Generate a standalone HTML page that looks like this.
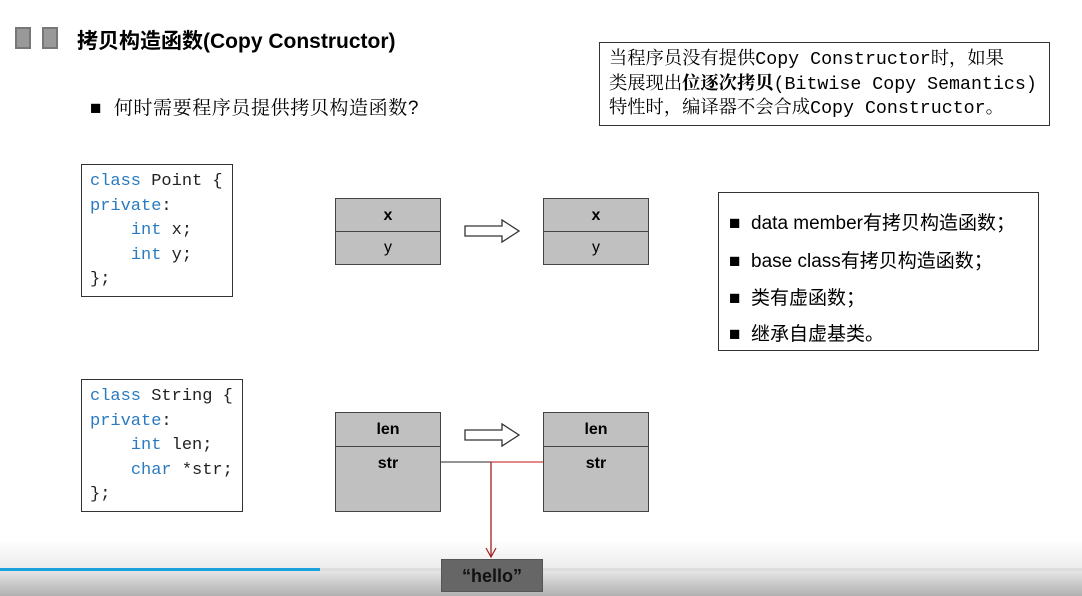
<!DOCTYPE html>
<html><head><meta charset="utf-8"><style>
*{margin:0;padding:0;box-sizing:border-box}
body{width:1082px;height:596px;overflow:hidden;background:#fff;position:relative;font-family:"Liberation Sans","Noto Sans CJK SC",sans-serif;color:#000}
.a{position:absolute}
.sq{position:absolute;width:16px;height:22px;background:#999;border:2px solid #777}
.code{position:absolute;border:1px solid #333;background:#fff;font-family:"Liberation Mono","Noto Serif CJK SC",monospace;font-size:17px;line-height:24.5px;padding:5px 0 0 8px;color:#222;white-space:pre}
.k{color:#2a7ac0}
.box{position:absolute;background:#c0c0c0;border:1px solid #444}
.box div{text-align:center;font-size:16px;font-weight:bold}
.note{position:absolute;left:599px;top:42px;width:451px;height:84px;border:1px solid #333;font-family:"Liberation Mono","Noto Serif CJK SC",serif;font-size:18.3px;line-height:24.5px;padding:5px 0 0 9px;white-space:nowrap;overflow:hidden}
.list{position:absolute;left:718px;top:192px;width:321px;height:159px;border:1px solid #333;font-size:19px}
.list div{position:absolute;left:10px;white-space:nowrap}
</style></head><body>
<div class="sq" style="left:15px;top:27px"></div>
<div class="sq" style="left:42px;top:27px"></div>
<div class="a" style="left:77px;top:25px;font-size:21px;font-weight:bold">拷贝构造函数(Copy Constructor)</div>
<div class="a" style="left:90px;top:93px;font-size:19px;letter-spacing:0.6px;font-family:'Liberation Sans','Noto Serif CJK SC',serif">■&nbsp; 何时需要程序员提供拷贝构造函数?</div>
<div class="note">当程序员没有提供Copy Constructor时，如果<br>类展现出<b>位逐次拷贝</b>(Bitwise Copy Semantics)<br>特性时，编译器不会合成Copy Constructor。</div>

<div class="code" style="left:81px;top:164px;width:152px;height:133px"><span class="k">class</span> Point {
<span class="k">private</span>:
    <span class="k">int</span> x;
    <span class="k">int</span> y;
};</div>
<div class="code" style="left:81px;top:379px;width:162px;height:133px"><span class="k">class</span> String {
<span class="k">private</span>:
    <span class="k">int</span> len;
    <span class="k">char</span> *str;
};</div>

<div class="box" style="left:335px;top:198px;width:106px;height:67px"><div style="height:33px;line-height:33px;border-bottom:1px solid #444">x</div><div style="line-height:32px;font-weight:normal">y</div></div>
<div class="box" style="left:543px;top:198px;width:106px;height:67px"><div style="height:33px;line-height:33px;border-bottom:1px solid #444">x</div><div style="line-height:32px;font-weight:normal">y</div></div>
<div class="box" style="left:335px;top:412px;width:106px;height:100px"><div style="height:34px;line-height:34px;border-bottom:1px solid #444">len</div><div style="line-height:34px">str</div></div>
<div class="box" style="left:543px;top:412px;width:106px;height:100px"><div style="height:34px;line-height:34px;border-bottom:1px solid #444">len</div><div style="line-height:34px">str</div></div>

<div class="a" style="left:0;top:540px;width:1082px;height:56px;background:linear-gradient(#fff,#ececec 50%,#b0b0b0)"></div>
<div class="a" style="left:0;top:568px;width:320px;height:3px;background:#1aa3dc"></div>
<div class="a" style="left:320px;top:568px;width:762px;height:3px;background:#ddd"></div>

<svg class="a" style="left:0;top:0" width="1082" height="596">
<polygon points="465,226 502,226 502,220 519,231 502,242 502,236 465,236" fill="#fff" stroke="#333" stroke-width="1.3"/>
<polygon points="465,430 502,430 502,424 519,435 502,446 502,440 465,440" fill="#fff" stroke="#333" stroke-width="1.3"/>
<line x1="441" y1="462" x2="491" y2="462" stroke="#555" stroke-width="1.2"/>
<line x1="491" y1="462" x2="543" y2="462" stroke="#d04040" stroke-width="1.2"/>
<line x1="491" y1="462" x2="491" y2="557" stroke="#a02020" stroke-width="1.3"/>
<polyline points="486,548 491,557 496,548" fill="none" stroke="#a02020" stroke-width="1.2"/>
</svg>
<div class="a" style="left:441px;top:559px;width:102px;height:33px;background:#666;border:1px solid #555;text-align:center;line-height:33px;font-size:18px;font-weight:bold;color:#111">“hello”</div>

<div class="list">
<div style="top:15px">■&nbsp; data member有拷贝构造函数；</div>
<div style="top:53px">■&nbsp; base class有拷贝构造函数；</div>
<div style="top:90px">■&nbsp; 类有虚函数；</div>
<div style="top:126px">■&nbsp; 继承自虚基类。</div>
</div>
</body></html>
